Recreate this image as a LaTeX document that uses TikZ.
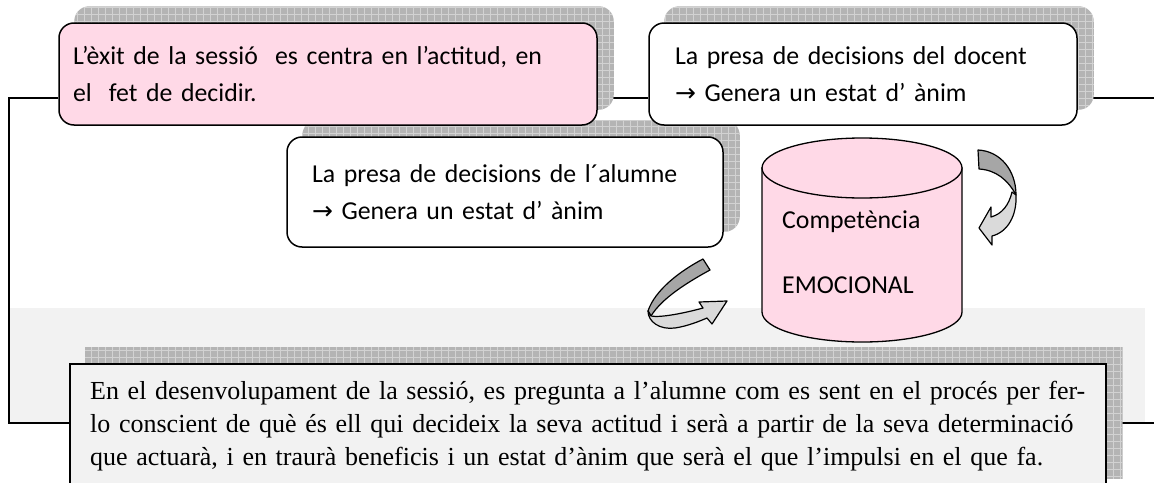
\documentclass[tikz,border=0pt]{standalone}
\usepackage{fontspec}
\setmainfont{Liberation Serif}
\newfontfamily\calibri{Carlito}
\newfontfamily\arrowfont{DejaVu Sans}
\usetikzlibrary{calc}
\definecolor{pinkfill}{HTML}{FFD9E7}
\definecolor{bandgray}{HTML}{F2F2F2}
\definecolor{shadowbase}{HTML}{B4B4B4}
\definecolor{shadowgrid}{HTML}{D2D2D2}
\definecolor{ribbondark}{HTML}{A6A6A6}
\definecolor{ribbonlight}{HTML}{DADADA}
\pgfdeclarelayer{bglayer}
\pgfdeclarelayer{linelayer}
\pgfdeclarelayer{shadowlayer}
\pgfsetlayers{bglayer,linelayer,shadowlayer,main}
\newcommand{\rarr}{{\arrowfont\fontsize{25}{25}\selectfont →}}
\newcommand{\dropshadow}[2]{%
  \begin{scope}
    \clip[rounded corners=#2] ($(#1.south west)+(16,-16)$) rectangle ($(#1.north east)+(16,-16)$);
    \fill[shadowbase] ($(#1.south west)+(16,-16)$) rectangle ($(#1.north east)+(16,-16)$);
    \draw[shadowgrid, line width=0.7pt, step=7pt] ($(#1.south west)+(16,-16)$) grid ($(#1.north east)+(16,-16)$);
  \end{scope}}
\begin{document}
\begin{tikzpicture}[x=1pt,y=-1pt,
  sansfont/.style={font=\calibri\fontsize{25.8}{37}\selectfont},
  roundbox/.style={draw=black, line width=1.5pt, rounded corners=15pt, align=left, sansfont, minimum height=102pt},
  conn/.style={draw=black, line width=1.6pt},
  ribbon/.style={draw=black, line width=1.2pt, line join=round}]
\useasboundingbox (0,0) rectangle (1154,482);
\begin{pgfonlayer}{bglayer}
\fill[white] (0,0) rectangle (1154,482);
\fill[bandgray] (9,308) rectangle (1145,423);
\end{pgfonlayer}

\node[roundbox, fill=pinkfill, text width=510pt, inner xsep=14pt] (pink) at (328,74)
  {L’èxit de la sessió\ \ es centra en l’actitud, en\\el\ \ fet de decidir.};
\node[roundbox, fill=white, text width=376pt, inner xsep=26pt] (docent) at (863,74)
  {La presa de decisions del docent\\\rarr\ Genera un estat d’ ànim};
\node[roundbox, fill=white, text width=386pt, inner xsep=25pt, minimum height=110pt] (alumne) at (505,192)
  {La presa de decisions de l´alumne\\\rarr\ Genera un estat d’ ànim};

\node[draw=black, line width=1.5pt, fill=bandgray, minimum width=1036pt, minimum height=130pt,
  anchor=north west, inner sep=0pt] (bottom) at (69,363) {};
\node[anchor=north west, inner sep=0pt, text width=996pt, align=left,
  font=\fontsize{26}{33}\selectfont] (bottomtext) at (90,381)
  {\makebox[996pt][s]{En el desenvolupament de la sessió, es pregunta a l’alumne com es sent en el procés per fer-}\\
   \makebox[996pt][s]{lo conscient de què és ell qui decideix la seva actitud i serà a partir de la seva determinació}\\
   que actuarà, i en traurà beneficis i un estat d’ànim que serà el que l’impulsi en el que fa.};

\coordinate (tl) at (9,98);
\coordinate (bl) at (9,423);
\coordinate (tr) at (1154,98);
\coordinate (br) at (1154,423);
\begin{pgfonlayer}{linelayer}
\draw[conn] (pink.west |- tl) -- (tl) -- (bl) -- (bottom.west |- bl);
\draw[conn] (pink.east |- tl) -- (docent.west |- tl);
\draw[conn] (docent.east |- tr) -- (tr);
\draw[conn] (bottom.east |- br) -- (br);
\end{pgfonlayer}

\begin{pgfonlayer}{shadowlayer}
\dropshadow{pink}{15pt}
\dropshadow{docent}{15pt}
\dropshadow{alumne}{15pt}
\dropshadow{bottom}{0pt}
\end{pgfonlayer}

% cylinder
\filldraw[fill=pinkfill, draw=black, line width=1.3pt] (762,168) -- (762,312)
  .. controls (762,328.6) and (806.8,342) .. (862,342)
  .. controls (917.2,342) and (962,328.6) .. (962,312) -- (962,168) -- cycle;
\filldraw[fill=pinkfill, draw=black, line width=1.3pt] (862,168) ellipse [x radius=100, y radius=30];
\node[sansfont, anchor=base west, inner sep=0pt] (comp) at (782,228) {Competència};
\node[sansfont, anchor=base west, inner sep=0pt] (emo) at (782,293) {EMOCIONAL};

% right curved arrow
\filldraw[ribbon, fill=ribbondark] (978,150) .. controls (1000,151) and (1016,170) .. (1016,195)
  .. controls (1008,180) and (996,170) .. (979,169) -- cycle;
\filldraw[ribbon, fill=ribbonlight] (1016,195) .. controls (1017,215) and (1008,232) .. (992,236)
  -- (992,245) -- (979,228) -- (991,207) -- (991,217)
  .. controls (1002,214) and (1009,205) .. (1012,192) -- cycle;

% left curved arrow
\filldraw[ribbon, fill=ribbondark] (703,259) .. controls (680,271) and (655,290) .. (648,311)
  -- (651,316) .. controls (662,298) and (688,282) .. (710,270) -- cycle;
\filldraw[ribbon, fill=ribbonlight] (648,311) .. controls (648,322) and (660,330) .. (675,328)
  .. controls (688,326) and (700,321) .. (707,318) -- (712,324) -- (727,301) -- (699,302) -- (703,308)
  .. controls (685,313) and (660,318) .. (651,316) -- cycle;
\end{tikzpicture}
\end{document}
